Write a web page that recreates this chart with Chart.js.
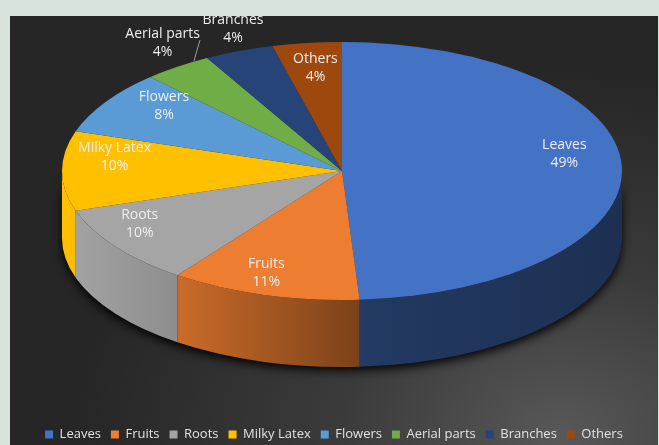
<!DOCTYPE html>
<html>
<head>
<meta charset="utf-8">
<script src="https://cdn.jsdelivr.net/npm/chart.js@4.4.1/dist/chart.umd.min.js"></script>
<style>
  html, body { margin: 0; padding: 0; }
  body { width: 659px; height: 445px; background: #d8e4db; position: relative; overflow: hidden; }
  #panel {
    position: absolute; left: 10px; top: 16px; width: 648px; height: 429px; overflow: hidden;
    background: radial-gradient(ellipse 75% 85% at 85% 98%, #585858 0%, #3b3b3b 45%, #262626 100%);
  }
  #panel canvas { display: block; }
</style>
</head>
<body>
<div id="panel"><canvas id="partsChart" width="648" height="435"></canvas></div>
<script>
// Plant parts used (share of reports, %)
const parts = ['Leaves', 'Fruits', 'Roots', 'Milky Latex', 'Flowers', 'Aerial parts', 'Branches', 'Others'];
const shares = [49, 11, 10, 10, 8, 4, 4, 4];
const sliceColors = ['#4472C4', '#ED7D31', '#A5A5A5', '#FFC000', '#5B9BD5', '#70AD47', '#264478', '#9E480E'];
// small slices whose labels sit above the pie
const outsideLabels = ['Aerial parts', 'Branches'];

// tilted pie: top face ellipse + wall depth, in canvas px
const PIE = { cx: 332, cy: 155, rx: 280, ry: 129, depth: 67 };
const labelFont = '14px "Open Sans"';
const textColor = '#eeeeee';

function shade(hex, f) {
    const n = parseInt(hex.slice(1), 16);
    const r = Math.min(255, Math.round(((n >> 16) & 255) * f));
    const g = Math.min(255, Math.round(((n >> 8) & 255) * f));
    const b = Math.min(255, Math.round((n & 255) * f));
    return `rgb(${r},${g},${b})`;
}

// point on the ellipse rim at a given arc angle
function rimPoint(t) {
    return { x: PIE.cx + PIE.rx * Math.cos(t), y: PIE.cy + PIE.ry * Math.sin(t) };
}

// label spot inside a slice, with a little perspective (far side squeezed)
function labelPoint(t, f) {
    const s = Math.sin(t) * f, c = Math.cos(t) * f;
    const w = 1 - 0.185 * s;
    return { x: PIE.cx - 2 + 275 * c / w, y: PIE.cy - 14 + 126 * s / w };
}

const pie3d = {
    id: 'pie3d',
    beforeDatasetsDraw(chart) {
        const ctx = chart.ctx;
        const meta = chart.getDatasetMeta(0);
        const arcs = meta.data;
        const { cx, cy, rx, ry, depth } = PIE;

        // drop shadow under the wall
        ctx.save();
        ctx.shadowColor = 'rgba(0,0,0,0.9)';
        ctx.shadowBlur = 10;
        ctx.shadowOffsetY = 4;
        ctx.beginPath();
        ctx.ellipse(cx, cy, rx, ry, 0, 0, Math.PI);
        ctx.ellipse(cx, cy + depth, rx, ry, 0, Math.PI, 0, true);
        ctx.closePath();
        ctx.fillStyle = '#111';
        ctx.fill();
        ctx.restore();

        // wall pieces, only the front half (0..PI) shows
        arcs.forEach((arc, i) => {
            const { startAngle, endAngle } = arc.getProps(['startAngle', 'endAngle'], true);
            const a0 = Math.max(startAngle, 0);
            const a1 = Math.min(endAngle, Math.PI);
            if (a1 <= a0) return;
            const grad = ctx.createLinearGradient(cx - rx, 0, cx + rx, 0);
            [[0, 1], [0.2, 0.86], [0.4, 0.66], [0.55, 0.5], [1, 0.42]].forEach(([p, f]) => {
                grad.addColorStop(p, shade(sliceColors[i], f));
            });
            ctx.beginPath();
            ctx.ellipse(cx, cy, rx, ry, 0, a0, a1);
            ctx.ellipse(cx, cy + depth, rx, ry, 0, a1, a0, true);
            ctx.closePath();
            ctx.fillStyle = grad;
            ctx.fill();
        });

        // top face: the library's arcs, squashed onto the ellipse
        const first = arcs[0].getProps(['x', 'y', 'outerRadius'], true);
        ctx.save();
        ctx.translate(cx, cy);
        ctx.scale(rx / first.outerRadius, ry / first.outerRadius);
        ctx.translate(-first.x, -first.y);
        meta.controller.draw();
        ctx.restore();

        // data labels
        ctx.save();
        ctx.font = labelFont;
        ctx.fillStyle = textColor;
        ctx.textAlign = 'center';
        ctx.textBaseline = 'middle';
        arcs.forEach((arc, i) => {
            const { startAngle, endAngle } = arc.getProps(['startAngle', 'endAngle'], true);
            const mid = (startAngle + endAngle) / 2;
            const name = parts[i];
            const pct = shares[i] + '%';
            let x, y;
            if (outsideLabels.includes(name)) {
                const anchor = rimPoint((mid + endAngle) / 2);
                const w = ctx.measureText(name).width;
                x = anchor.x + 8 - w / 2;
                y = anchor.y - 19;
                if (anchor.x - x > 25) {
                    ctx.strokeStyle = '#9a9a9a';
                    ctx.lineWidth = 1;
                    ctx.beginPath();
                    ctx.moveTo(anchor.x + 8, y - 3);
                    ctx.lineTo(anchor.x + 2, anchor.y - 1);
                    ctx.stroke();
                }
            } else {
                ({ x, y } = labelPoint(mid, 0.82));
            }
            ctx.fillText(name, x, y - 9);
            ctx.fillText(pct, x, y + 9);
        });
        ctx.restore();
        return false;
    }
};

new Chart(document.getElementById('partsChart'), {
    type: 'pie',
    data: {
        labels: parts,
        datasets: [{
            data: shares,
            backgroundColor: sliceColors,
            borderColor: sliceColors,
            borderWidth: 0,
            radius: PIE.rx,
            clip: false
        }]
    },
    options: {
        responsive: false,
        animation: false,
        events: [],
        plugins: {
            legend: {
                position: 'bottom',
                labels: {
                    color: '#e2e2e2',
                    font: { family: 'Open Sans', size: 13 },
                    boxWidth: 8,
                    boxHeight: 8,
                    padding: 10
                }
            },
            tooltip: { enabled: false }
        }
    },
    plugins: [pie3d]
});
</script>
</body>
</html>
